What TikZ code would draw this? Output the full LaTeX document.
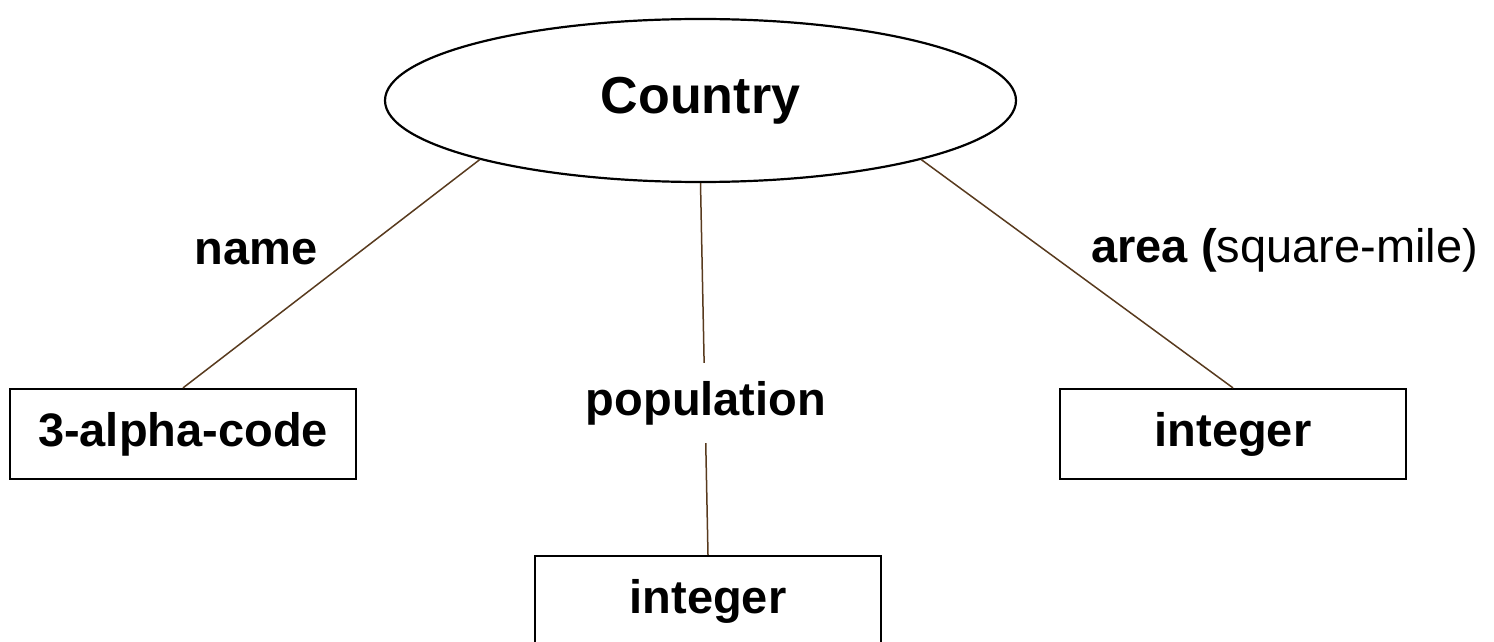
\documentclass[tikz,border=0pt]{standalone}
\usepackage{fontspec}
\setmainfont{Liberation Sans}
\usetikzlibrary{shapes.geometric}
\definecolor{linkbrown}{RGB}{88,58,30}
\begin{document}
\begin{tikzpicture}[x=0.5pt,y=-0.5pt,
  entity/.style={draw=black,line width=1.1pt,ellipse,minimum width=315.5pt,minimum height=81.5pt,inner sep=0pt,font=\fontsize{26}{30}\selectfont\bfseries},
  typebox/.style={draw=black,line width=1.1pt,rectangle,minimum width=173pt,minimum height=45pt,inner sep=0pt,font=\fontsize{23.5}{28}\selectfont\bfseries},
  link/.style={draw=linkbrown,line width=0.75pt},
  lbl/.style={inner sep=0pt,font=\fontsize{23.5}{28}\selectfont}
]
\useasboundingbox (0,0) rectangle (1494,642);
\node[entity] (country) at (700.5,100.5) {Country};
\node[typebox] (code) at (183,434) {3-alpha-code};
\node[typebox] (popint) at (708,601) {integer};
\node[typebox] (areaint) at (1233,434) {integer};
\draw[link] (country.195) -- (code.north);
\draw[link] (country.south) -- (popint.north);
\draw[link] (country.-15) -- (areaint.north);
\node[lbl,anchor=base west] (name) at (194,264) {\bfseries name};
\node[lbl,anchor=base,fill=white,inner ysep=9pt,inner xsep=4pt] (pop) at (706,415) {\bfseries population};
\node[lbl,anchor=base west] (area) at (1091,262) {\textbf{area (}square-mile)};
\end{tikzpicture}
\end{document}
